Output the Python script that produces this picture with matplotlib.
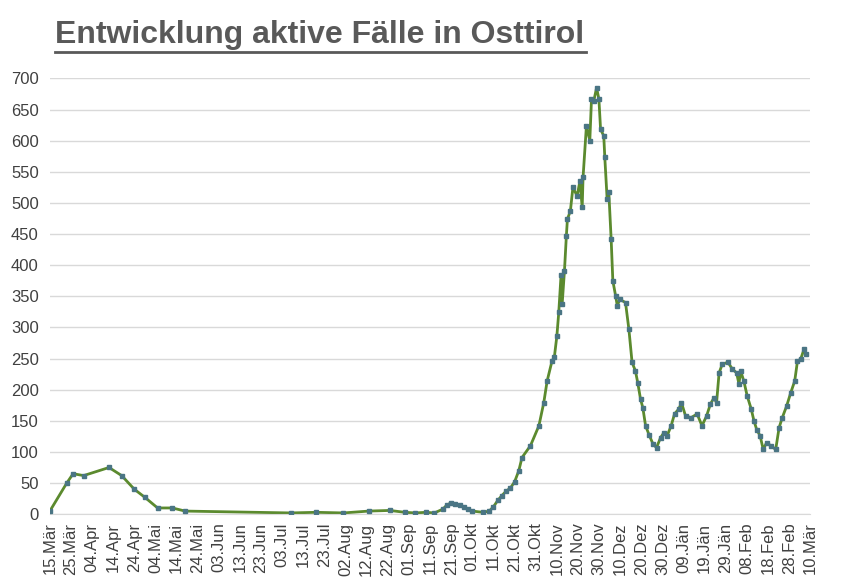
import matplotlib
matplotlib.use("Agg")
import matplotlib.pyplot as plt
import numpy as np

plt.rcParams['font.family'] = ['Liberation Sans', 'DejaVu Sans']

days = [0, 8, 11, 16, 28, 34, 40, 45, 51, 58, 64, 114, 126, 139, 151, 161, 168, 173, 178, 182,
        186, 188, 190, 192, 194, 196, 198, 200, 205, 208, 210, 212, 214, 216, 218, 220, 222,
        223.5, 227.5, 231.5, 233.8, 235.4, 237.7, 238.8, 240, 240.9, 242.5, 242, 243.6, 244.5, 245,
        246.4, 247.6, 249.6, 250.9, 252, 252.4, 254, 255.6, 256.4, 257.5, 258.8, 259.9, 260.7,
        262.2, 262.7, 263.8, 264.6, 265.7, 266.5, 267.8, 268.6, 269.8, 272.5, 274.1, 275.6, 277.2,
        278.3, 279.6, 280.7, 282, 283.6, 285.6, 287.2, 289.1, 290.7, 292.2, 294.1, 295.7, 297.7,
        299, 300.9, 303.5, 306.4, 308.7, 310.9, 312.7, 314.4, 315.6, 316.8, 318.3, 321, 323.1,
        325.1, 326.2, 327, 328.5, 330.1, 332, 333.3, 334.6, 336.2, 337.7, 339.3, 341.2, 343.6,
        345.2, 346.7, 348.8, 350.7, 352.6, 353.9, 355.4, 357, 357.8]
values = [5, 50, 65, 62, 75, 62, 40, 27, 10, 10, 5, 2, 3, 2, 5, 6, 3, 2, 3, 2,
          8, 15, 18, 16, 14, 12, 8, 5, 3, 5, 12, 22, 30, 37, 42, 52, 70,
          91, 110, 142, 179, 214, 246, 252, 286, 324, 337, 385, 391, 447, 474,
          487, 525, 511, 535, 493, 541, 624, 600, 667, 664, 685, 667, 618,
          608, 573, 506, 517, 442, 375, 351, 335, 345, 340, 297, 244, 230,
          211, 185, 171, 142, 128, 112, 107, 123, 131, 126, 142, 161, 169,
          179, 158, 155, 161, 142, 158, 177, 187, 179, 227, 241, 244, 233,
          227, 209, 230, 214, 190, 169, 150, 136, 126, 104, 115, 110, 104,
          139, 155, 174, 195, 214, 246, 249, 265, 257]
tick_labels = ["15.Mär", "25.Mär", "04.Apr", "14.Apr", "24.Apr", "04.Mai", "14.Mai", "24.Mai",
               "03.Jun", "13.Jun", "23.Jun", "03.Jul", "13.Jul", "23.Jul", "02.Aug", "12.Aug",
               "22.Aug", "01.Sep", "11.Sep", "21.Sep", "01.Okt", "11.Okt", "21.Okt", "31.Okt",
               "10.Nov", "20.Nov", "30.Nov", "10.Dez", "20.Dez", "30.Dez", "09.Jän", "19.Jän",
               "29.Jän", "08.Feb", "18.Feb", "28.Feb", "10.Mär"]

order = np.argsort(days, kind="stable")
d = np.array(days)[order]
v = np.array(values)[order]

fig = plt.figure(figsize=(8.45, 5.81), dpi=100)
ax = fig.add_axes([0.059, 0.115, 0.9, 0.75])
ax.plot(d, v, color="#5b8a2e", lw=2, zorder=2)
ax.plot(d, v, ls="none", marker="s", ms=3.5, color="#4a7584", zorder=3)
ax.set_xlim(0, 360)
ax.set_ylim(0, 700)
ax.set_yticks(range(0, 701, 50))
ax.set_xticks(np.arange(0, 361, 10))
ax.set_xticklabels(tick_labels, rotation=90, fontsize=12, color="#404040")
ax.tick_params(axis="y", labelsize=12, colors="#404040", length=0, pad=8)
ax.tick_params(axis="x", length=0, pad=6)
ax.grid(axis="y", color="#d9d9d9", lw=1)
ax.set_axisbelow(True)
for s in ["top", "right", "left"]:
    ax.spines[s].set_visible(False)
ax.spines["bottom"].set_color("#d9d9d9")
fig.text(0.065, 0.94, "Entwicklung aktive Fälle in Osttirol", fontsize=23, fontweight="bold",
         color="#595959", ha="left", va="center")
fig.add_artist(plt.Line2D([0.065, 0.693], [0.91, 0.91], color="#595959", lw=2))
fig.savefig("out.png")
